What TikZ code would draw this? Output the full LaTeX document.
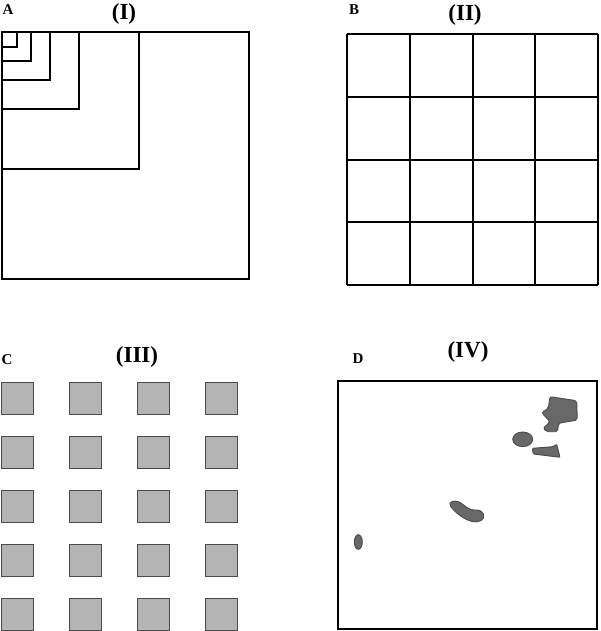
\documentclass[tikz,border=0pt]{standalone}
\usepackage{fontspec}
\setmainfont{Liberation Serif}
\usepackage{tikz}
\definecolor{cellgray}{HTML}{B4B4B4}
\definecolor{celledge}{HTML}{4A4A4A}
\definecolor{blobgray}{HTML}{686868}

\begin{document}
\begin{tikzpicture}[x=1pt,y=-1pt,
  panel/.style={font=\fontsize{15}{15}\selectfont\bfseries,inner sep=0pt},
  title/.style={font=\fontsize{23}{23}\selectfont\bfseries,inner sep=0pt},
  frame/.style={draw=black,line width=1.6pt},
  cell/.style={draw=celledge,fill=cellgray,line width=1pt},
  blob/.style={draw=celledge,fill=blobgray,line width=0.9pt}]
\useasboundingbox (0,0) rectangle (600,631);
% panel A: nested squares
\node[panel] (labA) at (8,10) {A};
\node[title] (titI) at (124,14) {(I)};
\foreach \s in {247,137,77,48,29,15}
  \draw[frame] (2,32) rectangle ++(\s,\s);
% panel B: regular grid
\node[panel] (labB) at (354,10) {B};
\node[title] (titII) at (465,15) {(II)};
\foreach \p in {0,63,126,188,251} {
  \draw[frame] (347+\p,34) -- (347+\p,285);
  \draw[frame] (347,34+\p) -- (598,34+\p);
}
% panel C: separated cells
\node[panel] (labC) at (7,360) {C};
\node[title] (titIII) at (137,357) {(III)};
\foreach \c in {0,...,3}
  \foreach \r in {0,...,4}
    \draw[cell] (1+68*\c,382+54*\r) rectangle ++(32,32);
% panel D: irregular patches
\node[panel] (labD) at (358,359) {D};
\node[title] (titIV) at (468,352) {(IV)};
\draw[frame] (338,381) rectangle (597,629);
\draw[blob,rounded corners=2pt] (550,396.7) -- (576.7,400.7) -- (577.3,420) -- (558.3,423.3)
  -- (557.7,431.7) -- (546.7,431.7) -- (543.3,428.3) -- (550,421.7) -- (541.7,412.7)
  -- (548.3,408.3) -- cycle;
\draw[blob] (522.7,439.3) ellipse [x radius=10, y radius=7.3];
\draw[blob,rounded corners=1pt] (532.3,448.3) -- (552.7,446.7) -- (556.7,444.3) -- (560,457.3)
  -- (533.3,454) -- cycle;
\draw[blob,rounded corners=4pt] (448.3,504) -- (455,500) -- (461.7,503.3) -- (470,510)
  -- (481.7,510) -- (485,518.3) -- (476.7,522.7) -- (466.7,520) -- (456.7,513.3) -- cycle;
\draw[blob] (358.3,542) ellipse [x radius=4, y radius=7.3];
\end{tikzpicture}
\end{document}
